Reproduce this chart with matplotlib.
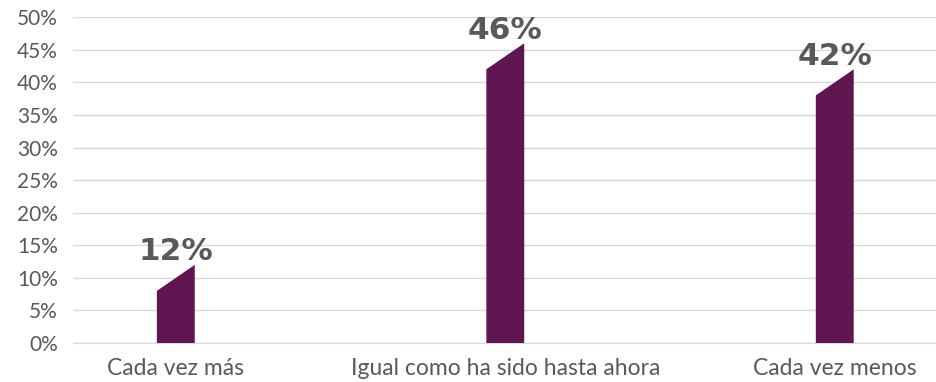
import numpy as np
from matplotlib import pyplot as plt

categorias = ["Cada vez más", "Igual como ha sido hasta ahora", "Cada vez menos"]
valores = [12, 46, 42]
etiquetas = ["12%", "46%", "42%"]
yticks = [0, 5, 10, 15, 20, 25, 30, 35, 40, 45, 50]

color_barra = "#5f1650"
ancho = 0.115
caida = 4.0  # the slanted top of each bar

fig = plt.figure(figsize=(9.36, 3.82), dpi=100)
ax = fig.add_axes([0.078, 0.102, 0.93, 0.853])

for i, v in enumerate(valores):
    xs = [i - ancho / 2, i + ancho / 2, i + ancho / 2, i - ancho / 2]
    ys = [0, 0, v, v - caida]
    ax.fill(xs, ys, color=color_barra, lw=0, zorder=3)
    ax.text(i, v + 0.7, etiquetas[i], ha="center", va="baseline",
            fontsize=22.5, fontweight="bold", family="DejaVu Sans", color="#595959", zorder=4)

ax.set_ylim(0, 50)
ax.set_xlim(-0.312, 2.33)
ax.set_yticks(yticks)
ax.set_yticklabels([f"{t}%" for t in yticks])
ax.set_xticks(range(len(categorias)))
ax.set_xticklabels(categorias)
ax.grid(axis="y", color="#d9d9d9", lw=1, zorder=0)
ax.tick_params(axis="both", length=0, colors="#595959", labelsize=15)
ax.tick_params(axis="y", pad=11)
ax.tick_params(axis="x", pad=11, labelsize=16.5)
for lab in ax.get_xticklabels() + ax.get_yticklabels():
    lab.set_family("Lato")
    lab.set_fontweight("normal")
for s in ["top", "right", "left"]:
    ax.spines[s].set_visible(False)
ax.spines["bottom"].set_color("#d9d9d9")

plt.savefig("out.png", dpi=100)
